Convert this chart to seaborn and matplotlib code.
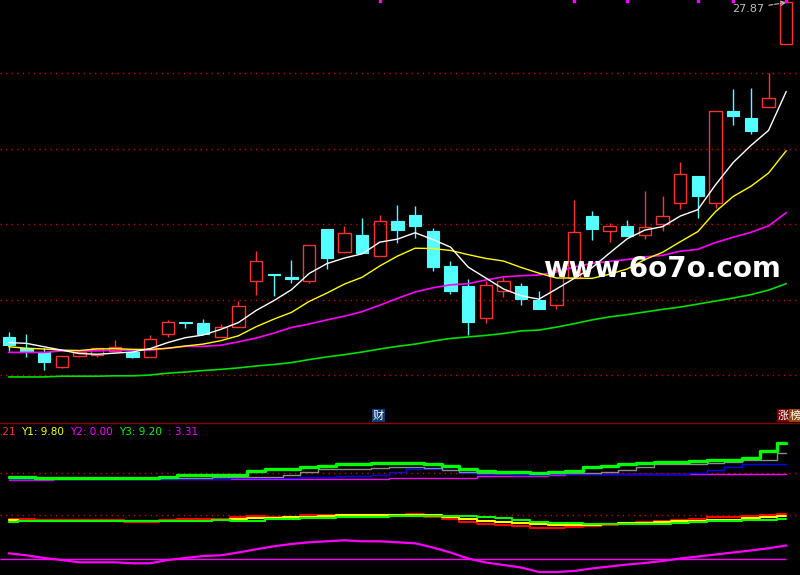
import matplotlib
matplotlib.use("Agg")
import pandas as pd
import matplotlib.pyplot as plt
import seaborn as sns

# ------------------ Section 1: price data (45 daily bars) -----------------------
opens = [19.01, 18.72, 18.60, 18.22, 18.50, 18.53, 18.64, 18.62, 18.47, 19.08,
         19.40, 19.37, 19.01, 19.26, 20.50, 20.67, 20.60, 20.48, 21.87, 21.27,
         21.71, 21.16, 22.08, 22.24, 21.81, 20.89, 20.36, 19.52, 20.23, 20.36,
         19.99, 19.86, 20.58, 22.21, 21.82, 21.94, 21.70, 21.99, 22.55, 23.26,
         22.57, 24.99, 24.81, 25.11, 26.76]
highs = [19.14, 19.09, 18.72, 18.50, 18.64, 18.72, 18.93, 18.62, 19.05, 19.46,
         19.40, 19.48, 19.35, 19.96, 21.28, 20.67, 21.05, 21.44, 21.87, 21.95,
         22.16, 22.24, 22.50, 22.48, 21.89, 21.02, 20.54, 20.50, 20.59, 20.43,
         20.23, 20.83, 22.64, 22.34, 22.03, 22.11, 22.87, 22.74, 23.64, 23.26,
         24.99, 25.58, 25.60, 25.99, 27.87]
lows = [18.64, 18.48, 18.13, 18.19, 18.48, 18.47, 18.61, 18.46, 18.47, 19.00,
        19.24, 19.08, 19.01, 19.26, 20.13, 20.10, 20.43, 20.44, 20.80, 21.22,
        21.22, 21.16, 21.49, 21.64, 20.76, 20.15, 19.06, 19.39, 20.07, 19.86,
        19.76, 19.76, 20.58, 21.58, 21.53, 21.69, 21.61, 21.82, 22.39, 22.15,
        22.42, 24.63, 24.39, 25.11, 26.76]
closes = [18.79, 18.60, 18.34, 18.50, 18.61, 18.72, 18.73, 18.48, 18.95, 19.40,
          19.37, 19.09, 19.26, 19.82, 21.01, 20.65, 20.54, 21.44, 21.11, 21.76,
          21.22, 22.07, 21.85, 21.95, 20.87, 20.23, 19.41, 20.38, 20.49, 20.01,
          19.76, 20.78, 21.78, 21.88, 21.94, 21.69, 21.91, 22.21, 23.32, 22.75,
          24.99, 24.87, 24.47, 25.33, 27.87]

# moving averages as shown on the chart (they carry history from before bar 0)
ma5 = [18.86, 18.84, 18.75, 18.66, 18.57, 18.55, 18.58, 18.61, 18.70, 18.86,
       18.99, 19.06, 19.21, 19.39, 19.71, 19.97, 20.26, 20.69, 20.95, 21.10,
       21.21, 21.52, 21.60, 21.77, 21.59, 21.39, 20.86, 20.57, 20.28, 20.10,
       20.01, 20.28, 20.56, 20.84, 21.23, 21.61, 21.84, 21.93, 22.21, 22.38,
       23.04, 23.63, 24.08, 24.48, 25.51]
ma10 = [18.75, 18.71, 18.69, 18.66, 18.65, 18.69, 18.70, 18.68, 18.68, 18.71,
        18.77, 18.82, 18.91, 19.04, 19.28, 19.48, 19.66, 19.95, 20.17, 20.41,
        20.59, 20.89, 21.15, 21.36, 21.35, 21.30, 21.19, 21.09, 21.02, 20.85,
        20.70, 20.57, 20.57, 20.56, 20.67, 20.81, 21.06, 21.25, 21.53, 21.80,
        22.33, 22.73, 23.00, 23.35, 23.94]
ma20 = [18.60, 18.60, 18.60, 18.64, 18.64, 18.64, 18.66, 18.66, 18.66, 18.71,
        18.76, 18.76, 18.79, 18.88, 18.98, 19.11, 19.26, 19.35, 19.46, 19.56,
        19.68, 19.85, 20.03, 20.20, 20.31, 20.39, 20.42, 20.52, 20.60, 20.63,
        20.65, 20.73, 20.86, 20.96, 21.01, 21.06, 21.13, 21.17, 21.28, 21.33,
        21.51, 21.65, 21.78, 21.95, 22.30]
ma60 = [17.95, 17.95, 17.95, 17.97, 17.97, 17.97, 17.98, 17.98, 18.00, 18.05,
        18.08, 18.12, 18.15, 18.19, 18.24, 18.28, 18.33, 18.41, 18.48, 18.54,
        18.61, 18.69, 18.76, 18.82, 18.90, 18.97, 19.01, 19.05, 19.10, 19.17,
        19.19, 19.27, 19.36, 19.46, 19.54, 19.60, 19.67, 19.74, 19.80, 19.88,
        19.96, 20.04, 20.13, 20.25, 20.42]

signal_bars = [21, 32, 35, 39, 41, 44]
price_grid = [18, 20, 22, 24, 26]
high_label = "27.87"

# ------------------ Section 2: indicator panel 1 -----------------------
ind_green = [2.71, 2.71, 2.52, 2.52, 2.52, 2.52, 2.52, 2.52, 2.52, 2.82,
             3.09, 3.09, 3.09, 3.09, 3.81, 4.19, 4.28, 4.66, 4.94, 5.13,
             5.28, 5.32, 5.47, 5.47, 5.13, 4.91, 4.28, 3.90, 3.71, 3.62,
             3.47, 3.62, 3.90, 4.66, 4.94, 5.23, 5.36, 5.51, 5.61, 5.70,
             5.98, 5.98, 6.27, 7.78, 9.20]
ind_gray = [2.58, 2.58, 2.58, 2.58, 2.58, 2.58, 2.58, 2.58, 2.58, 2.63,
            2.63, 2.63, 2.71, 2.71, 2.71, 2.71, 3.14, 3.77, 4.22, 4.22,
            4.22, 4.56, 4.60, 4.60, 4.38, 4.00, 3.71, 3.52, 3.47, 3.43,
            3.43, 3.43, 3.43, 3.47, 3.62, 4.00, 4.75, 5.17, 5.17, 5.17,
            5.36, 5.55, 5.93, 5.93, 7.37]
ind_blue = [2.39, 2.39, 2.39, 2.39, 2.39, 2.39, 2.39, 2.39, 2.39, 2.39,
            2.39, 2.39, 2.39, 2.52, 2.52, 2.52, 2.52, 2.82, 2.82, 2.95,
            2.95, 3.20, 3.66, 4.22, 4.22, 4.00, 3.52, 3.33, 3.24, 3.20,
            3.20, 3.24, 3.33, 3.39, 3.39, 3.39, 3.39, 3.39, 3.39, 3.43,
            4.00, 4.75, 5.17, 5.17, 5.17]
ind_magenta = [2.20, 2.20, 2.20, 2.33, 2.33, 2.33, 2.33, 2.33, 2.33, 2.33,
               2.33, 2.33, 2.33, 2.33, 2.33, 2.33, 2.33, 2.33, 2.33, 2.33,
               2.33, 2.33, 2.48, 2.52, 2.52, 2.52, 2.52, 2.90, 2.90, 2.90,
               2.90, 3.09, 3.33, 3.33, 3.33, 3.33, 3.33, 3.33, 3.33, 3.33,
               3.33, 3.33, 3.33, 3.33, 3.33]
ind_ref = 3.58
ind_labels = [".21", "Y1: 9.80", "Y2: 0.00", "Y3: 9.20", ": 3.31"]
ind_label_colors = ["#ff3232", "#ffff00", "#ff00ff", "#00ff00", "#ff00ff"]

# ------------------ Section 3: indicator panel 2 -----------------------
osc_red = [4.00, 4.00, 3.90, 3.90, 3.90, 3.90, 3.90, 3.70, 3.70, 3.90,
           4.00, 4.00, 4.00, 4.20, 4.33, 4.20, 4.20, 4.40, 4.40, 4.40,
           4.40, 4.40, 4.40, 4.50, 4.28, 4.00, 3.70, 3.58, 3.40, 3.30,
           3.10, 3.10, 3.20, 3.30, 3.40, 3.60, 3.70, 3.80, 3.90, 4.00,
           4.20, 4.20, 4.30, 4.40, 4.50]
osc_yellow = [3.90, 3.86, 3.86, 3.86, 3.86, 3.86, 3.86, 3.83, 3.83, 3.86,
              3.86, 3.86, 3.93, 4.00, 4.10, 4.10, 4.20, 4.20, 4.30, 4.40,
              4.40, 4.40, 4.40, 4.40, 4.40, 4.28, 4.08, 3.88, 3.70, 3.60,
              3.50, 3.40, 3.40, 3.40, 3.50, 3.60, 3.60, 3.70, 3.80, 3.80,
              3.90, 3.90, 4.10, 4.20, 4.30]
osc_green = [3.70, 3.80, 3.80, 3.80, 3.80, 3.80, 3.80, 3.80, 3.80, 3.80,
             3.80, 3.80, 3.90, 3.86, 3.86, 4.00, 4.00, 4.10, 4.10, 4.20,
             4.20, 4.20, 4.33, 4.33, 4.33, 4.30, 4.30, 4.23, 4.10, 3.90,
             3.70, 3.60, 3.60, 3.50, 3.50, 3.50, 3.50, 3.50, 3.60, 3.70,
             3.80, 3.80, 3.90, 3.90, 4.00]
osc_magenta = [0.60, 0.40, 0.13, -0.07, -0.30, -0.30, -0.30, -0.40, -0.40, -0.07,
               0.13, 0.33, 0.40, 0.68, 1.00, 1.30, 1.53, 1.70, 1.80, 1.90,
               1.80, 1.80, 1.70, 1.60, 1.18, 0.68, 0.08, -0.32, -0.57, -0.82,
               -1.27, -1.27, -1.17, -0.92, -0.72, -0.52, -0.37, -0.17, 0.08, 0.28,
               0.48, 0.68, 0.88, 1.10, 1.38]
osc_ref = 4.40
osc_zero = 0.0

# ------------------ Section 4: figure setup -----------------------
sns.set_theme(style="dark", rc={"axes.facecolor": "black", "figure.facecolor": "black"})
plt.rcParams["font.family"] = ["DejaVu Sans", "Noto Sans CJK SC"]

RED = "#ff3232"
CYAN = "#54ffff"
GRID = "#c80000"
W, H = 800, 575
XLIM = (-0.4925, 44.78)

fig = plt.figure(figsize=(8, 5.75), dpi=100)
ax = fig.add_axes([0, 152 / H, 1, 423 / H])
ax2 = fig.add_axes([0, 85 / H, 1, 67 / H])
ax3 = fig.add_axes([0, 0, 1, 85 / H])
for a in (ax, ax2, ax3):
    a.set_xlim(*XLIM)
    a.set_xticks([])
    a.set_yticks([])
    a.grid(False)
    for s in a.spines.values():
        s.set_visible(False)
    a.set_facecolor("black")

df = pd.DataFrame({"open": opens, "high": highs, "low": lows, "close": closes})
df["idx"] = range(len(df))
up = df[df["close"] >= df["open"]]
dn = df[df["close"] < df["open"]]

# ------------------ Section 5: main price panel -----------------------
ax.set_ylim(16.73, 27.934)
for g in price_grid:
    ax.axhline(g, color=GRID, lw=1, ls=(0, (1, 3)), zorder=1)

# falling bars: solid cyan
ax.vlines(dn["idx"], dn["low"], dn["high"], color=CYAN, lw=1, zorder=2)
ax.bar(dn["idx"], dn["open"] - dn["close"], bottom=dn["close"], width=0.7,
       color=CYAN, edgecolor=CYAN, lw=0.8, zorder=2)
# rising bars: hollow red
ax.vlines(up["idx"], up["close"], up["high"], color=RED, lw=1, zorder=2)
ax.vlines(up["idx"], up["low"], up["open"], color=RED, lw=1, zorder=2)
ax.bar(up["idx"], up["close"] - up["open"], bottom=up["open"], width=0.7,
       fill=False, edgecolor=RED, lw=1, zorder=2)

for vals, col, lw in [(ma60, "#00e000", 1.2), (ma20, "#ff00ff", 1.2),
                      (ma10, "#ffff00", 1.0), (ma5, "white", 1.0)]:
    sns.lineplot(x=df["idx"], y=vals, ax=ax, color=col, lw=lw, legend=False,
                 errorbar=None, zorder=3)

ax.scatter(signal_bars, [27.91] * len(signal_bars), marker="s", s=4,
           color="#ff00ff", zorder=4, clip_on=False)

ax.annotate(high_label, xy=(44, highs[44]), xytext=(-39, -4.5), textcoords="offset points",
            color="#c0c0c0", fontsize=8, ha="left", va="center",
            arrowprops=dict(arrowstyle="->", color="#c0c0c0", lw=0.8, ls="--",
                            shrinkA=1, shrinkB=0))
ax.set_xlabel("")
ax.set_ylabel("")

# ------------------ Section 6: indicator panel 1 -----------------------
ax2.set_ylim(0.30, 12.99)
ax2.axhline(ind_ref, color=GRID, lw=1, ls=(0, (1, 3)), zorder=1)
for vals, col, lw in [(ind_magenta, "#ff00ff", 1.0), (ind_blue, "#0000ff", 1.0),
                      (ind_gray, "#8c8c8c", 1.0), (ind_green, "#00ff00", 2.4)]:
    sns.lineplot(x=df["idx"], y=vals, ax=ax2, color=col, lw=lw, legend=False,
                 errorbar=None, drawstyle="steps-mid", zorder=3)
ax2.set_xlabel("")
ax2.set_ylabel("")

# ------------------ Section 7: indicator panel 2 -----------------------
ax3.set_ylim(-1.57, 6.93)
ax3.axhline(osc_ref, color=GRID, lw=1, ls=(0, (1, 3)), zorder=1)
ax3.hlines(osc_zero, XLIM[0], 44, color="#ff00ff", lw=1.0, zorder=2)
for vals, col in [(osc_red, "#ff0000"), (osc_yellow, "#ffff00"), (osc_green, "#00ff00")]:
    sns.lineplot(x=df["idx"], y=vals, ax=ax3, color=col, lw=1.5, legend=False,
                 errorbar=None, drawstyle="steps-mid", zorder=3)
sns.lineplot(x=df["idx"], y=osc_magenta, ax=ax3, color="#ff00ff", lw=1.6,
             legend=False, errorbar=None, zorder=3)
ax3.set_xlabel("")
ax3.set_ylabel("")

# ------------------ Section 8: separators, labels, watermark -----------------------
fig.add_artist(plt.Line2D([0, 1], [152 / H, 152 / H], color="#8c0000", lw=1))

for txt, col, px in zip(ind_labels, ind_label_colors, [0, 21, 70, 119, 168]):
    fig.text(px / W, 1 - 432 / H, txt, color=col, fontsize=7.5, ha="left", va="center")

fig.text(378.5 / W, 1 - 415.5 / H, "财", color="white", fontsize=8, ha="center", va="center",
         family=["Noto Sans CJK SC"], bbox=dict(boxstyle="square,pad=0.12", fc="#0c3c78", ec="none"))
fig.text(783.5 / W, 1 - 415.5 / H, "涨", color="white", fontsize=8, ha="center", va="center",
         family=["Noto Sans CJK SC"], bbox=dict(boxstyle="square,pad=0.12", fc="#7a0000", ec="none"))
fig.text(795.5 / W, 1 - 415.5 / H, "榜", color="white", fontsize=8, ha="center", va="center",
         family=["Noto Sans CJK SC"], bbox=dict(boxstyle="square,pad=0.12", fc="#8a4a10", ec="none"))

fig.text(543 / W, 1 - 277 / H, "www.6o7o.com", color="white", fontsize=20,
         fontweight="bold", ha="left", va="baseline", zorder=10)

fig.savefig("out.png", dpi=100, facecolor="black")
